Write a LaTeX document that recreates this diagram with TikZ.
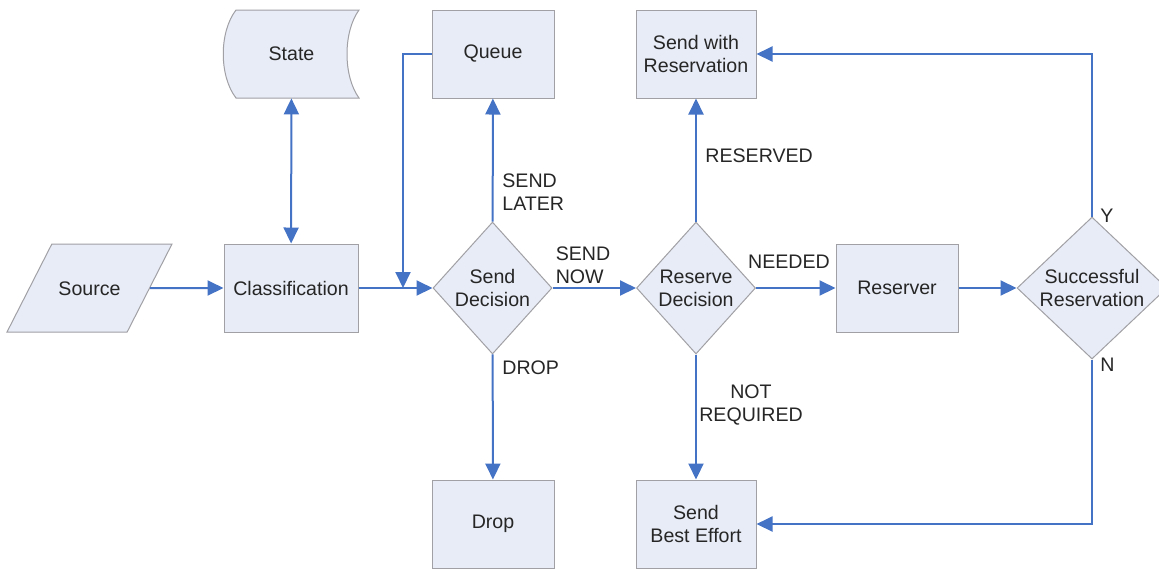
\documentclass[tikz,border=0pt]{standalone}
\usepackage{fontspec}
\setmainfont{Liberation Sans}
\usepackage{xcolor}
\usetikzlibrary{shapes.geometric,arrows.meta}

\definecolor{boxfill}{RGB}{232,236,246}
\definecolor{boxline}{RGB}{160,160,165}
\definecolor{linkblue}{RGB}{68,114,196}

\begin{document}
\begin{tikzpicture}%
                    [x=0.5pt, y=-0.5pt,
                    font=\fontsize{9.8}{11.5}\selectfont,
                    every node/.style={text=black!85},
                    process/.style={draw=boxline, fill=boxfill, line width=0.5pt, align=center,
                                    inner sep=0pt, minimum width=61pt, minimum height=44pt},
                    decision/.style={diamond, draw=boxline, fill=boxfill, line width=0.5pt, align=center,
                                    inner sep=0pt, minimum width=59.5pt, minimum height=66pt},
                    io/.style={trapezium, trapezium left angle=63, trapezium right angle=117,
                                    trapezium stretches body=true, draw=boxline, fill=boxfill, line width=0.5pt,
                                    text height=7pt, text depth=0pt, inner xsep=0pt, inner ysep=18.5pt,
                                    minimum width=82.5pt},
                    link/.style={draw=linkblue, line width=1pt, -{Triangle[length=8pt,width=7.5pt]}},
                    biglink/.style={link, {Triangle[length=8pt,width=7.5pt]}-{Triangle[length=8pt,width=7.5pt]}},
                    tag/.style={inner sep=0pt, align=left}]

                \useasboundingbox (0,0) rectangle (1159,569);
                %%
                %% Drawing the stored state
                %%
                \filldraw[draw=boxline, fill=boxfill, line width=0.5pt]
                    (236,10) -- (359,10) .. controls (343,32) and (343,76) .. (359,98)
                    -- (236,98) .. controls (219,76) and (219,32) .. (236,10) -- cycle;
                \node[inner sep=0pt, minimum width=67.5pt, minimum height=44pt] (state) at (291.5,54) {State};
                %%
                %% Drawing the blocks
                %%
                \node[io] (source) at (89.5,288) {Source};
                \node[process, minimum width=67pt] (classify) at (291,288) {Classification};
                \node[process] (queue) at (493,54) {Queue};
                \node[decision] (senddec) at (492.5,288) {Send\\Decision};
                \node[process] (drop) at (493,524) {Drop};
                \node[decision] (resdec) at (696,288) {Reserve\\Decision};
                \node[process, minimum width=60pt] (sendres) at (696,54) {Send with\\Reservation};
                \node[process, minimum width=60pt] (sendbest) at (696,524) {Send\\Best Effort};
                \node[process] (reserver) at (897,288) {Reserver};
                \node[decision, minimum width=75pt, minimum height=65.5pt] (success) at (1092,288) {Successful\\Reservation};
                \coordinate (merge) at (403,288);
                %%
                %% Drawing the connectors
                %%
                \draw[link] (source) -- (classify);
                \draw[biglink] (classify) -- (state);
                \draw[link] (classify) -- (senddec);
                \draw[link] (queue.west) -| (merge);
                \draw[link] (senddec) -- (queue);
                \draw[link] (senddec) -- (resdec);
                \draw[link] (senddec) -- (drop);
                \draw[link] (resdec) -- (sendres);
                \draw[link] (resdec) -- (reserver);
                \draw[link] (resdec) -- (sendbest);
                \draw[link] (reserver) -- (success);
                \draw[link] (success.north) |- (sendres.east);
                \draw[link] (success.south) |- (sendbest.east);
                %%
                %% Drawing the labels
                %%
                \node[tag, anchor=west] (later) at (502,192) {SEND\\LATER};
                \node[tag] (now) at (583,265) {SEND\\NOW};
                \node[tag, anchor=west] (droptag) at (502,368) {DROP};
                \node[tag, anchor=west] (reservedtag) at (705,156) {RESERVED};
                \node[tag] (needed) at (789,262) {NEEDED};
                \node[tag, align=center] (notreq) at (751,405) {NOT\\REQUIRED};
                \node[tag, anchor=west] (yes) at (1100,216) {Y};
                \node[tag, anchor=west] (no) at (1100,365) {N};
                %%
                %%
\end{tikzpicture}
\end{document}
